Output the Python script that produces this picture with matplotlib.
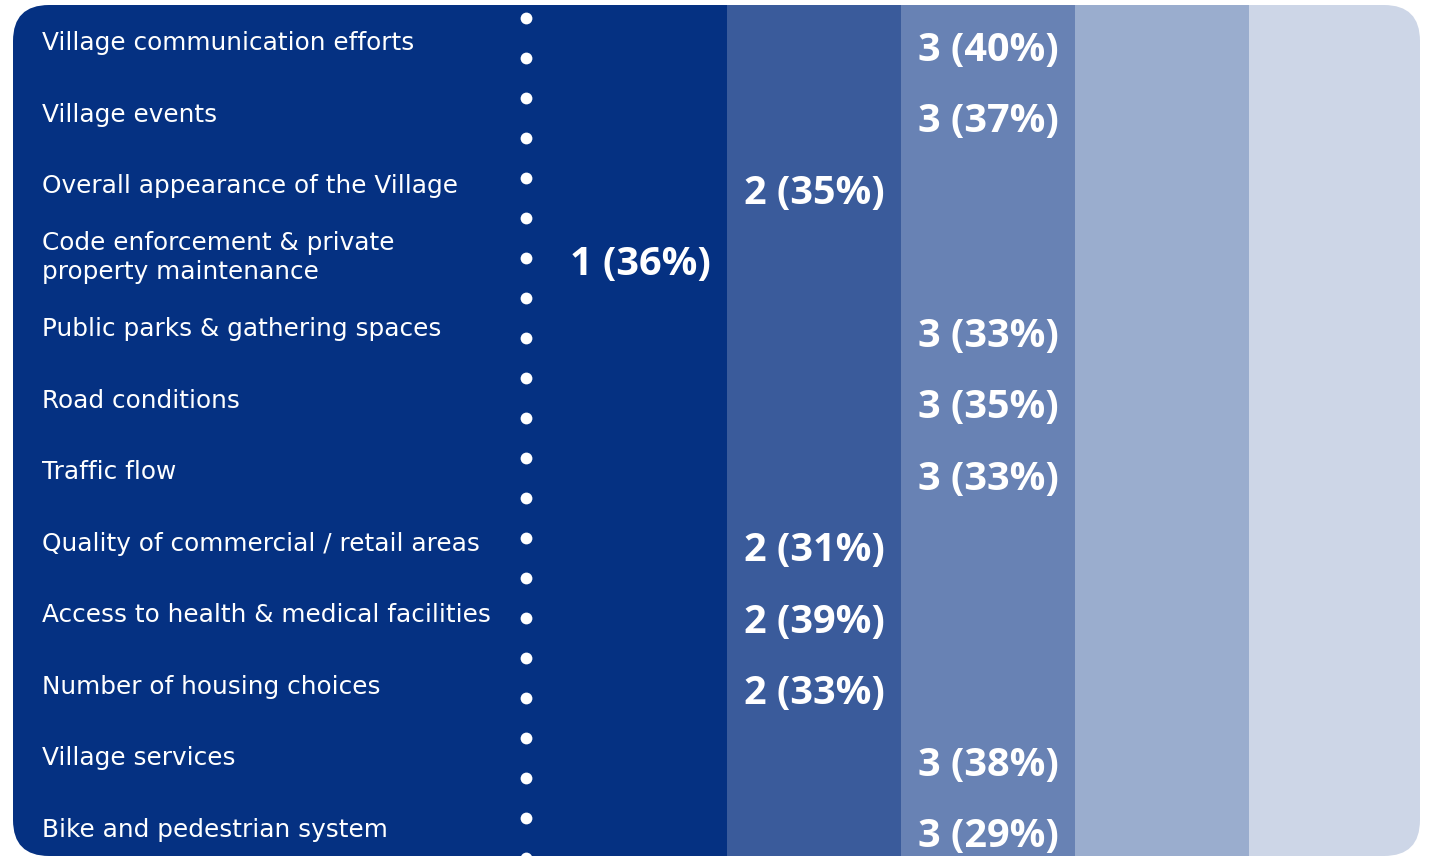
import numpy as np
import matplotlib
matplotlib.use("Agg")
import matplotlib.pyplot as plt
from matplotlib.patches import FancyBboxPatch
from matplotlib.transforms import IdentityTransform

categories = [
    "Village communication efforts",
    "Village events",
    "Overall appearance of the Village",
    "Code enforcement & private\nproperty maintenance",
    "Public parks & gathering spaces",
    "Road conditions",
    "Traffic flow",
    "Quality of commercial / retail areas",
    "Access to health & medical facilities",
    "Number of housing choices",
    "Village services",
    "Bike and pedestrian system",
]
ranks = [3, 3, 2, 1, 3, 3, 3, 2, 2, 2, 3, 3]
percents = [40, 37, 35, 36, 33, 35, 33, 31, 39, 33, 38, 29]
columns = [1, 2, 3, 4, 5]

navy = "#053182"
col_colors = ["#053182", "#3A5B9B", "#6882B4", "#9AADCE", "#CDD6E7"]

W, H = 1432, 858
fig = plt.figure(figsize=(W / 100, H / 100), dpi=100)
ax = fig.add_axes([0, 0, 1, 1])
ax.axis("off")

# 1 column unit = 174 px, 1 row = 71.5 px
xmin, xmax = 0.5 - 553 / 174, 0.5 + (W - 553) / 174
ymin, ymax = -46 / 71.5, (H - 46) / 71.5
ax.set_xlim(xmin, xmax)
ax.set_ylim(ymax, ymin)

# rounded outline in pixels
clip = FancyBboxPatch((13, 2), 1407, 851, boxstyle="round,pad=0,rounding_size=36",
                      transform=IdentityTransform(), facecolor="none", edgecolor="none")
fig.add_artist(clip)

parts = []
parts.append(ax.axvspan(xmin, 0.5, color=navy, lw=0))
bars = ax.bar(columns, ymax - ymin, bottom=ymin, width=1.0, color=col_colors, lw=0)
parts.extend(bars)

# dotted separator
dot_y = np.arange(18, H + 20, 40)
dots, = ax.plot(np.full(len(dot_y), 0.5 - 27 / 174), (dot_y - 46) / 71.5, "o",
                color="white", ms=8.5, mec="none")
parts.append(dots)
for p in parts:
    p.set_clip_path(clip)

rows = np.arange(len(categories))
for i, lab in enumerate(categories):
    ax.text(0.5 - 511 / 174, rows[i] - 0.04, lab, color="white", fontsize=17.8,
            family="DejaVu Sans", va="center", ha="left",
            linespacing=1.3)

for i in rows:
    ax.text(ranks[i], rows[i] + 0.06, f"{ranks[i]} ({percents[i]}%)", color="white",
            fontsize=28.5, family="Open Sans", weight="bold", ha="center", va="center")

fig.savefig("out.png", dpi=100, facecolor="white")
